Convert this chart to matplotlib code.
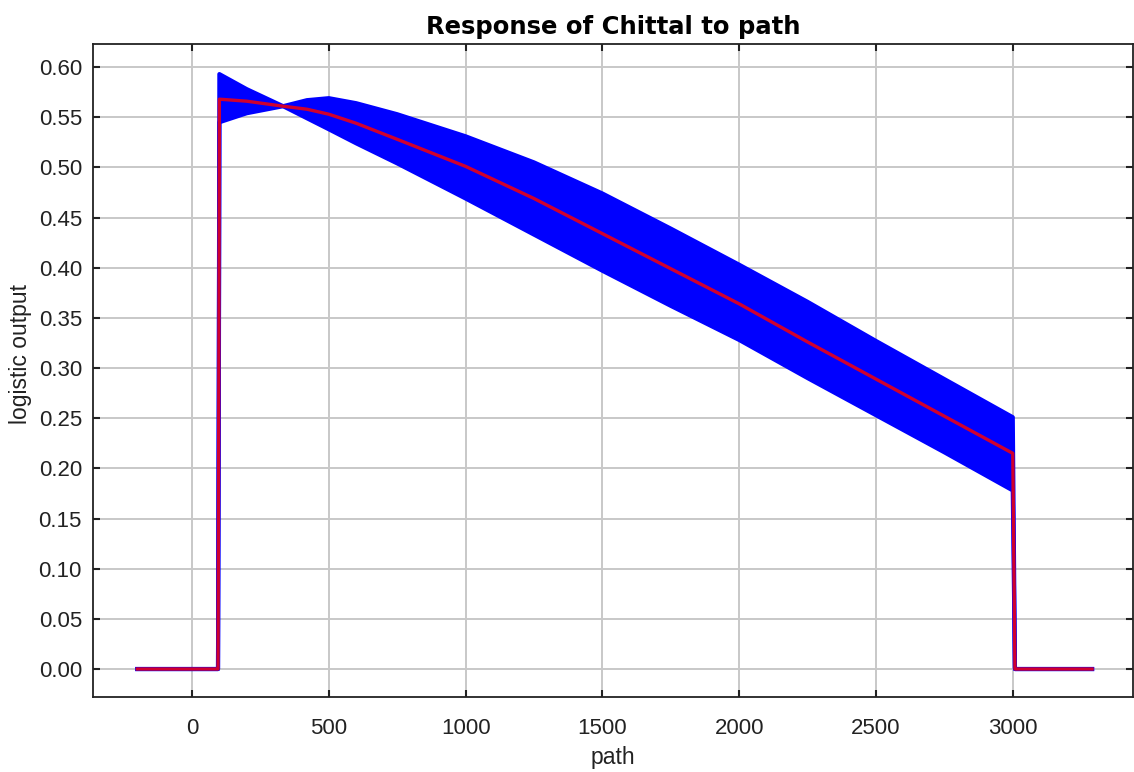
import matplotlib
matplotlib.use("Agg")
import matplotlib.pyplot as plt

# Chittal response curve to path (mean with +/- one std band)
path = [-200, 95, 98, 100, 200, 333, 420, 500, 600, 750, 1000, 1250, 1500,
        1750, 2000, 2250, 2500, 2750, 3000, 3008, 3290]
mean = [0.0, 0.0, 0.285, 0.568, 0.566, 0.561, 0.558, 0.553, 0.544, 0.528,
        0.501, 0.469, 0.434, 0.399, 0.364, 0.326, 0.289, 0.252, 0.215, 0.0, 0.0]
upper = [0.0, 0.0, 0.300, 0.593, 0.578, 0.561, 0.567, 0.569, 0.564, 0.553,
         0.531, 0.505, 0.474, 0.439, 0.403, 0.366, 0.327, 0.289, 0.251, 0.0, 0.0]
lower = [0.0, 0.0, 0.272, 0.545, 0.554, 0.561, 0.549, 0.538, 0.524, 0.504,
         0.469, 0.433, 0.397, 0.362, 0.328, 0.290, 0.253, 0.216, 0.178, 0.0, 0.0]

plt.rcParams["font.family"] = ["Liberation Sans", "DejaVu Sans"]

fig = plt.figure(figsize=(11.34, 7.72), dpi=100)
ax = fig.add_axes([0.082, 0.097, 0.917, 0.846])

ax.fill_between(path, lower, upper, color="#0000ff", linewidth=0, zorder=2)
ax.plot(path, upper, color="#0000ff", lw=3.0, zorder=2)
ax.plot(path, lower, color="#0000ff", lw=3.0, zorder=2)
ax.plot(path, mean, color="#ff0000", lw=2.4, alpha=0.82, zorder=3)

ax.set_xlim(-362, 3439)
ax.set_ylim(-0.028, 0.623)
ax.set_xticks([0, 500, 1000, 1500, 2000, 2500, 3000])
ax.set_yticks([i * 0.05 for i in range(13)])
ax.set_yticklabels([f"{i * 0.05:.2f}" for i in range(13)])

ax.grid(True, color="#c8c8c8", lw=1.4, zorder=0)
ax.set_axisbelow(True)
ax.tick_params(direction="in", length=5, width=1.5, top=True, right=True,
               labelsize=16, color="#222222", labelcolor="#222222")
ax.tick_params(axis="x", pad=15)
ax.tick_params(axis="y", pad=8)
for s in ax.spines.values():
    s.set_linewidth(1.3)
    s.set_color("#222222")

ax.set_title("Response of Chittal to path", fontsize=17.5, fontweight="bold",
             family=["DejaVu Sans"], pad=7)
ax.set_xlabel("path", fontsize=16.5, labelpad=5, color="#222222")
ax.set_ylabel("logistic output", fontsize=16.5, color="#222222")
ax.yaxis.set_label_coords(-0.059, 0.525)

fig.savefig("out.png", dpi=100)
